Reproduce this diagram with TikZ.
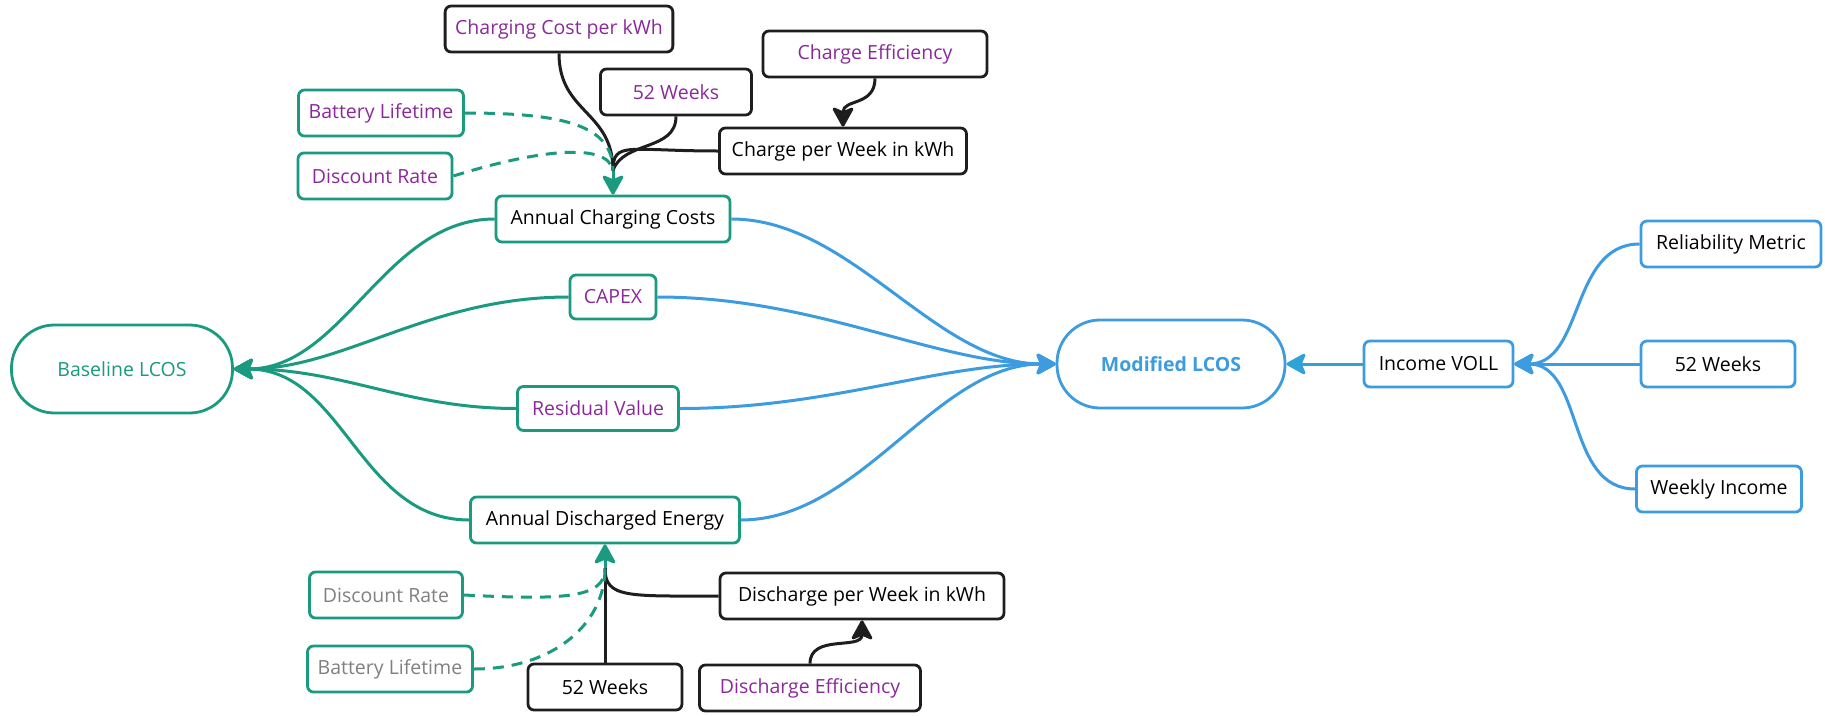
\documentclass[tikz,border=0pt]{standalone}
\usepackage{fontspec}
\setmainfont{Open Sans}
\usetikzlibrary{arrows.meta,calc}
\definecolor{tealc}{HTML}{1A9A7E}
\definecolor{bluec}{HTML}{3D9BE0}
\definecolor{purplec}{HTML}{8A2A9A}
\definecolor{grayc}{HTML}{808080}
\definecolor{darkc}{HTML}{1E1E1E}
\definecolor{cyanc}{HTML}{2FA3D8}
\tikzset{
  box/.style={draw, rounded corners=6pt, line width=2.8pt, minimum height=46pt,
    inner xsep=10pt, inner ysep=4pt, fill=white, font=\fontsize{19.5}{23}\selectfont},
  tbox/.style={box, draw=tealc},
  kbox/.style={box, draw=darkc},
  bbox/.style={box, draw=bluec},
  pill/.style={draw, rounded corners=43pt, line width=2.8pt, minimum height=88pt,
    fill=white, font=\fontsize{19.5}{23}\selectfont},
  tip/.style={-{Stealth[length=22pt,width=24pt,inset=5pt,round]}},
  tl/.style={draw=tealc, line width=3pt},
  bl/.style={draw=bluec, line width=3pt},
  kl/.style={draw=darkc, line width=3pt},
  tdash/.style={draw=tealc, line width=3pt, dash pattern=on 11pt off 8pt},
}
\begin{document}
\begin{tikzpicture}[x=1pt,y=-1pt]
\useasboundingbox (0,0) rectangle (1825,715);

% ---------- nodes ----------
\node[pill, draw=tealc, text=tealc, minimum width=221pt] (base) at (122,369) {Baseline LCOS};
\node[pill, draw=bluec, text=bluec, minimum width=228pt, font=\fontsize{19.5}{23}\selectfont\bfseries] (mod) at (1171,364) {Modified LCOS};

\node[tbox, minimum width=234pt] (acc) at (613,219) {Annual Charging Costs};
\node[tbox, text=purplec, minimum width=86pt, minimum height=44pt] (capex) at (613,297) {CAPEX};
\node[tbox, text=purplec, minimum width=161pt, minimum height=44pt] (resid) at (598,408.5) {Residual Value};
\node[tbox, minimum width=269pt] (ade) at (605,520) {Annual Discharged Energy};

\node[kbox, text=purplec, minimum width=226pt] (cc) at (559,29) {Charging Cost per kWh};
\node[kbox, text=purplec, minimum width=224pt] (ce) at (875,54) {Charge Efficiency};
\node[kbox, text=purplec, minimum width=151pt] (wt) at (676,92) {52 Weeks};
\node[tbox, text=purplec, minimum width=165pt] (btop) at (381,113) {Battery Lifetime};
\node[tbox, text=purplec, minimum width=154pt] (dtop) at (375,176) {Discount Rate};
\node[kbox, minimum width=247pt] (cw) at (843,151) {Charge per Week in kWh};

\node[tbox, text=grayc, minimum width=153pt] (dbot) at (386,595) {Discount Rate};
\node[tbox, text=grayc, minimum width=165pt] (bbot) at (390,669) {Battery Lifetime};
\node[kbox, minimum width=284pt] (dw) at (862,596) {Discharge per Week in kWh};
\node[kbox, minimum width=154pt] (wb) at (605,687) {52 Weeks};
\node[kbox, text=purplec, minimum width=221pt] (de) at (810,688) {Discharge Efficiency};

\node[bbox, minimum width=149pt] (iv) at (1438.5,364) {Income VOLL};
\node[bbox, minimum width=180pt] (rel) at (1731,244) {Reliability Metric};
\node[bbox, minimum width=154pt] (wr) at (1718,364) {52 Weeks};
\node[bbox, minimum width=165pt] (wi) at (1719,489) {Weekly Income};

% ---------- junctions ----------
\coordinate (jt) at ($(acc.north)+(0,-24)$);
\coordinate (jb) at ($(ade.south)+(0,24)$);

% ---------- baseline side ----------
\draw[tl, tip] (acc.west) .. controls +(-110,0) and +(110,0) .. (base.east);
\draw[tl, tip] (capex.west) .. controls +(-140,0) and +(110,0) .. (base.east);
\draw[tl, tip] (resid.west) .. controls +(-110,0) and +(110,0) .. (base.east);
\draw[tl, tip] (ade.west) .. controls +(-110,0) and +(110,0) .. (base.east);

% ---------- modified side ----------
\draw[bl, tip] (acc.east) .. controls +(120,0) and +(-120,0) .. (mod.west);
\draw[bl, tip] (capex.east) .. controls +(160,0) and +(-120,0) .. (mod.west);
\draw[bl, tip] (resid.east) .. controls +(150,0) and +(-120,0) .. (mod.west);
\draw[bl, tip] (ade.east) .. controls +(120,0) and +(-120,0) .. (mod.west);

\draw[draw=cyanc, line width=3pt, tip] (iv.west) -- (mod.east);
\draw[bl, tip] (rel.west) .. controls +(-70,0) and +(70,0) .. (iv.east);
\draw[bl, tip] (wr.west) -- (iv.east);
\draw[bl, tip] (wi.west) .. controls +(-70,0) and +(70,0) .. (iv.east);

% ---------- top inputs ----------
\draw[kl] (cc.south) .. controls +(0,60) and +(0,-60) .. (jt);
\draw[kl] (wt.south) .. controls +(0,35) and +(10,-30) .. (jt);
\draw[kl] (cw.west) .. controls +(-90,0) and +(0,-30) .. (jt);
\draw[tdash] (btop.east) .. controls +(100,0) and +(0,-45) .. (jt);
\draw[tdash] (dtop.east) .. controls +(80,-25) and +(-5,-30) .. (jt);
\draw[tl, tip] (jt) -- (acc.north);
\draw[kl, tip] (ce.south) .. controls +(0,28) and +(0,-28) .. (cw.north);

% ---------- bottom inputs ----------
\draw[kl] (wb.north) -- (jb);
\draw[kl] (dw.west) .. controls +(-90,0) and +(0,30) .. (jb);
\draw[tdash] (dbot.east) .. controls +(100,5) and +(0,30) .. (jb);
\draw[tdash] (bbot.east) .. controls +(80,0) and +(0,55) .. (jb);
\draw[tl, tip] (jb) -- (ade.south);
\draw[kl, tip] (de.north) .. controls +(0,-30) and +(0,30) .. (dw.south);
\end{tikzpicture}
\end{document}
